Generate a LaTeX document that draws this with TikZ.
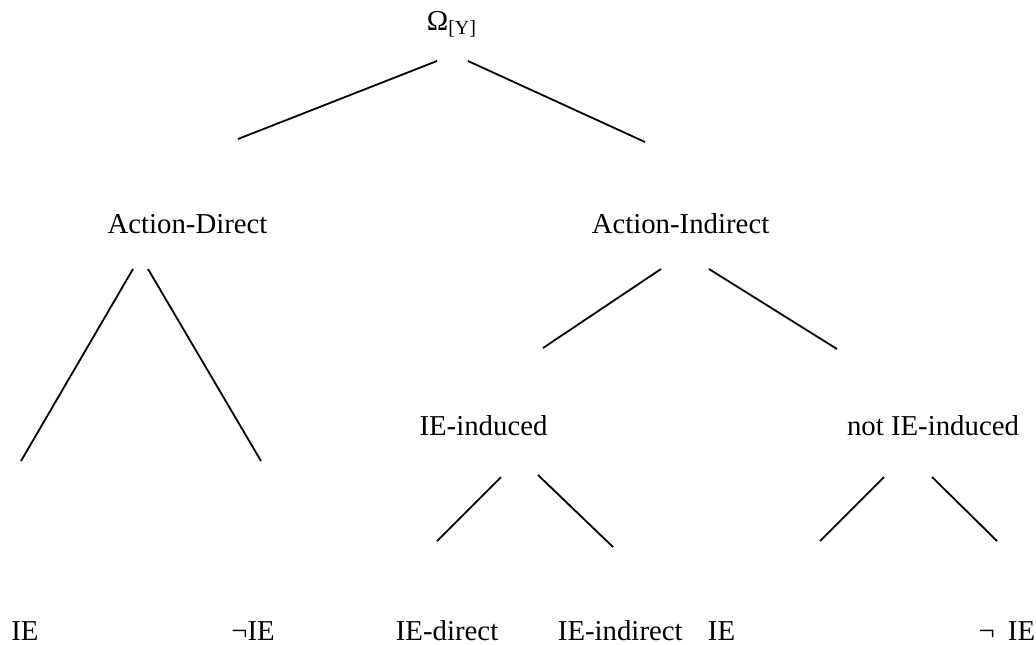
\documentclass[tikz,border=0pt]{standalone}
\usepackage{fontspec}
\setmainfont{Liberation Serif}
\begin{document}
\begin{tikzpicture}[x=0.5pt,y=-0.5pt,lab/.style={anchor=base,inner sep=0pt,font=\fontsize{14.4}{17}\selectfont},line width=0.9pt]
		\useasboundingbox (0,0) rectangle (1036,644);
		% Knoten
		\node[lab,anchor=base west] (O) at (426,30) {Ω\textsubscript{[Y]}};
		\node[lab] (AD) at (187.5,233) {Action-Direct};
		\node[lab] (AI) at (680.5,233) {Action-Indirect};
		\node[lab] (II) at (483.5,435) {IE-induced};
		\node[lab] (NI) at (933,435) {not IE-induced};
		\node[lab] (L1) at (25,640) {IE};
		\node[lab] (L2) at (253,640) {¬IE};
		\node[lab,anchor=base west] (L3) at (395,640) {IE-direct};
		\node[lab,anchor=base west] (L4) at (557,640) {IE-indirect};
		\node[lab,anchor=base west] (L5) at (707,640) {IE};
		\node[lab,anchor=base east] (L6) at (1036,640) {¬\hspace{0.45em}IE};
		% Enden der Linien
		\coordinate (O1) at (437,61);
		\coordinate (O2) at (468,61);
		\coordinate (AD1) at (238,139);
		\coordinate (AI1) at (645,142);
		\coordinate (AD2) at (133,269);
		\coordinate (AD3) at (148,269);
		\coordinate (L11) at (21,461);
		\coordinate (L21) at (261,461);
		\coordinate (AI2) at (661,269);
		\coordinate (AI3) at (709,269);
		\coordinate (II1) at (543,348);
		\coordinate (NI1) at (837,349);
		\coordinate (II2) at (501,477);
		\coordinate (II3) at (538,475);
		\coordinate (L31) at (437,541);
		\coordinate (L41) at (613,547);
		\coordinate (NI2) at (884,477);
		\coordinate (NI3) at (932,477);
		\coordinate (L51) at (820,541);
		\coordinate (L61) at (997,541);
		\draw (O1) to (AD1);
		\draw (O2) to (AI1);
		\draw (AD2) to (L11);
		\draw (AD3) to (L21);
		\draw (AI2) to (II1);
		\draw (AI3) to (NI1);
		\draw (II2) to (L31);
		\draw (II3) to (L41);
		\draw (NI2) to (L51);
		\draw (NI3) to (L61);
	\end{tikzpicture}
\end{document}
